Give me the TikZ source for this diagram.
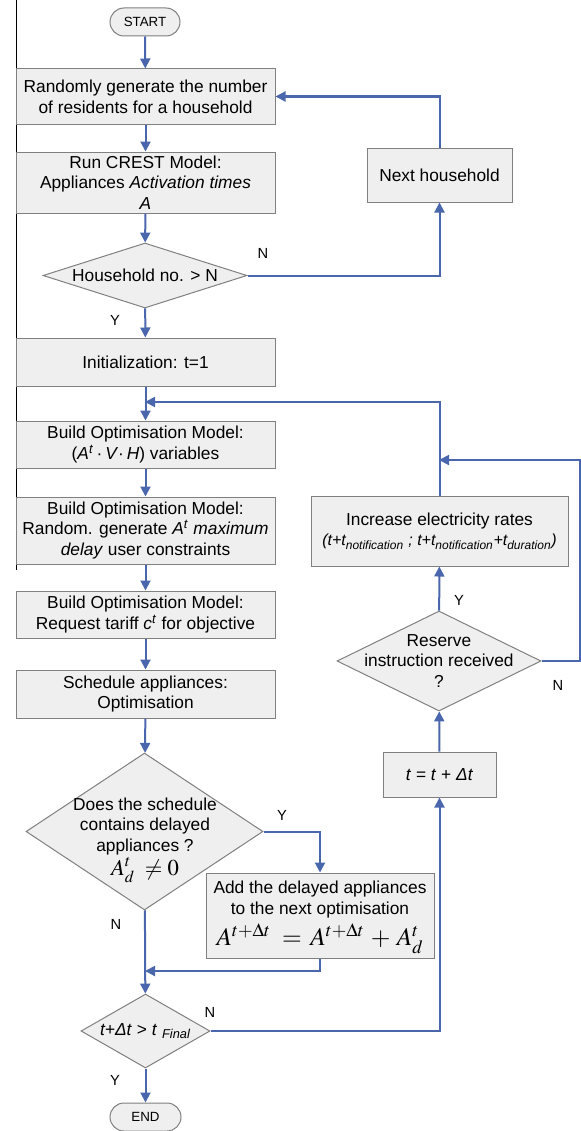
\documentclass[tikz,border=0pt]{standalone}
\usepackage{mathptmx}
\usepackage[no-math]{fontspec}
\setmainfont{Liberation Sans}
\usetikzlibrary{shapes.geometric,arrows.meta}
\definecolor{flow}{RGB}{74,102,172}
\definecolor{boxline}{RGB}{128,128,128}
\definecolor{boxfill}{RGB}{239,239,239}
\begin{document}
\begin{tikzpicture}[x=0.75pt,y=-0.75pt,
  every node/.style={font=\fontsize{13}{15.5}\selectfont},
  proc/.style={draw=boxline, fill=boxfill, line width=0.75pt, align=center, inner sep=0pt},
  term/.style={proc, rounded corners=10.5pt, font=\fontsize{10}{12}\selectfont},
  dec/.style={diamond, draw=boxline, fill=boxfill, line width=0.75pt, inner sep=0pt},
  dectext/.style={align=center, inner sep=0pt},
  lab/.style={font=\fontsize{11}{13}\selectfont, inner sep=0pt},
  flowline/.style={draw=flow, line width=1.5pt},
  arr/.style={flowline, -{Triangle[length=7.5pt,width=7.5pt]}},
]
\useasboundingbox (0,0) rectangle (581,1131);
\draw[line width=0.75pt] (16,0) -- (16,570);

% main column
\node[term, minimum width=52.5pt, minimum height=21pt] (start) at (145,22) {START};
\node[proc, minimum width=194.25pt, minimum height=41.25pt] (box1) at (145.5,96.5)
  {Randomly generate the number\\of residents for a household};
\node[proc, minimum width=194.25pt, minimum height=45.75pt] (box2) at (145.5,182.5)
  {Run CREST Model:\\Appliances \textit{Activation times}\\\textit{A}};
\node[dec, minimum width=153pt, minimum height=48.75pt] (d1) at (145,275.5) {};
\node[dectext] (d1t) at (d1) {Household no. {>} N};
\node[proc, minimum width=194.25pt, minimum height=36pt] (init) at (145.5,362)
  {Initialization: t=1};
\coordinate (m1) at (145,402);
\node[proc, minimum width=194.25pt, minimum height=35.25pt] (build1) at (145.5,444.5)
  {Build Optimisation Model:\\(\textit{A}\textsuperscript{\textit{t}}\,·\,\textit{V}·\,\textit{H}) variables};
\node[proc, minimum width=194.25pt, minimum height=50.25pt] (build2) at (145.5,530.5)
  {Build Optimisation Model:\\Random. generate \textit{A}\textsuperscript{\textit{t}} \textit{maximum}\\\textit{delay} user constraints};
\node[proc, minimum width=194.25pt, minimum height=35.25pt] (build3) at (145.5,614.5)
  {Build Optimisation Model:\\Request tariff \textit{c}\textsuperscript{\textit{t}} for objective};
\node[proc, minimum width=194.25pt, minimum height=36pt] (sched) at (145.5,694)
  {Schedule appliances:\\Optimisation};
\node[dec, minimum width=177.75pt, minimum height=117.75pt] (d2) at (144.5,831.5) {};
\node[dectext] (d2t) at (145,840)
  {Does the schedule\\contains delayed\\appliances ?\\[1pt]{\fontsize{17}{18}\selectfont$A_d^t\; \neq 0$}};
\node[proc, minimum width=171pt, minimum height=63.75pt] (add) at (320,915.5) {};
\node[dectext] (addt) at (320,917.5)
  {Add the delayed appliances\\to the next optimisation\\[3pt]{\fontsize{19}{20}\selectfont$A^{t+\Delta t} \;=\, A^{t+\Delta t} \,+\, A_d^t$}};
\coordinate (m2) at (145,971);
\node[dec, minimum width=96.75pt, minimum height=55.5pt] (d3) at (145.5,1031) {};
\node[dectext] (d3t) at (d3) {\textit{t+Δt} {>} \textit{t} \textsubscript{\textit{Final}}};
\node[term, minimum width=53.25pt, minimum height=21pt] (end) at (145.5,1117) {END};

% right column
\node[proc, minimum width=108.75pt, minimum height=40.5pt] (nh) at (439.5,175) {Next household};
\node[proc, minimum width=192.75pt, minimum height=52.5pt] (inc) at (439.5,531)
  {Increase electricity rates\\{\fontsize{12}{14}\selectfont\textit{(t+t\textsubscript{notification} ; t+t\textsubscript{notification}+t\textsubscript{duration})}}};
\coordinate (m3) at (439,460);
\coordinate (rr) at (580,460);
\node[dec, minimum width=153pt, minimum height=75pt] (res) at (439,661) {};
\node[dectext] (rest) at (res) {Reserve\\instruction received\\?};
\node[proc, minimum width=84.75pt, minimum height=33.75pt] (tt) at (439.5,774.5)
  {\textit{t} = \textit{t} + \textit{Δt}};

% connectors
\draw[arr] (start) -- (box1);
\draw[arr] (box1) -- (box2);
\draw[arr] (box2) -- (d1);
\draw[arr] (d1.east) -| (nh.south);
\draw[arr] (nh.north) |- (box1.east);
\draw[arr] (d1) -- (init);
\draw[arr] (init) -- (build1);
\draw[arr] (inc.north) |- (m1);
\draw[arr] (build1) -- (build2);
\draw[arr] (build2) -- (build3);
\draw[arr] (build3) -- (sched);
\draw[arr] (sched) -- (d2);
\draw[arr] (d2.east) -| (add.north);
\draw[arr] (add.south) |- (m2);
\draw[arr] (d2) -- (d3);
\draw[arr] (d3.east) -| (tt.south);
\draw[arr] (d3) -- (end);
\draw[arr] (tt) -- (res);
\draw[arr] (res) -- (inc);
\draw[arr] (res.east) -| (rr) -- (m3);

% labels
\node[lab] (l1) at (263,253) {N};
\node[lab] (l2) at (115,320) {Y};
\node[lab] (l3) at (282,815) {Y};
\node[lab] (l4) at (116,924) {N};
\node[lab] (l5) at (210,1012) {N};
\node[lab] (l6) at (115,1080) {Y};
\node[lab] (l7) at (459,600) {Y};
\node[lab] (l8) at (558,685) {N};
\end{tikzpicture}
\end{document}
